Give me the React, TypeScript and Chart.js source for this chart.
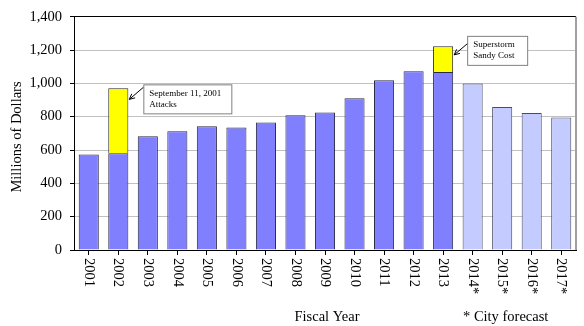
import React, { useEffect, useRef } from "react";
import { Chart, registerables } from "chart.js";

Chart.register(...registerables);

const categories = ["2001","2002","2003","2004","2005","2006","2007","2008","2009","2010","2011","2012","2013","2014*","2015*","2016*","2017*"];
const baseValues = [573, 580, 682, 712, 743, 735, 765, 808, 825, 910, 1018, 1072, 1068, 999, 858, 822, 795];
const extraValues = [0, 391, 0, 0, 0, 0, 0, 0, 0, 0, 0, 0, 155, 0, 0, 0, 0];
const forecastFlags = [false,false,false,false,false,false,false,false,false,false,false,false,false,true,true,true,true];
const yTickValues = [0, 200, 400, 600, 800, 1000, 1200, 1400];

const annotations = [
  { index: 1, value: 904, dx: 15, dy: -15, w: 88, h: 29, arrowY: 3, lines: ["September 11, 2001", "Attacks"] },
  { index: 12, value: 1171, dx: 14, dy: -19, w: 60, h: 29, arrowY: 8, lines: ["Superstorm", "Sandy Cost"] },
];

const SERIF = "'Liberation Serif', 'Times New Roman', serif";

const overlayPlugin = {
  id: "overlay",
  afterDraw(chart: any) {
    const ctx = chart.ctx;
    const xs = chart.scales.x;
    const ca = chart.chartArea;
    ctx.save();
    // right border of plot
    ctx.strokeStyle = "#a0a0a0";
    ctx.lineWidth = 2;
    ctx.beginPath();
    ctx.moveTo(ca.right, ca.top);
    ctx.lineTo(ca.right, ca.bottom);
    ctx.stroke();

    // x labels rotated clockwise
    ctx.fillStyle = "#000";
    ctx.font = `14.5px ${SERIF}`;
    ctx.textAlign = "left";
    ctx.textBaseline = "middle";
    categories.forEach((lab, i) => {
      const x = xs.getPixelForTick(i);
      ctx.save();
      ctx.translate(x, ca.bottom + 8);
      ctx.rotate(Math.PI / 2);
      ctx.fillText(lab, 0, 0);
      ctx.restore();
    });

    // axis titles
    ctx.font = `14.5px ${SERIF}`;
    ctx.textAlign = "center";
    ctx.textBaseline = "middle";
    ctx.save();
    ctx.translate(17, 137);
    ctx.rotate(-Math.PI / 2);
    ctx.fillText("Millions of Dollars", 0, 0);
    ctx.restore();
    ctx.fillText("Fiscal Year", (ca.left + ca.right) / 2 + 2, 317);
    ctx.textAlign = "left";
    ctx.fillText("* City forecast", 463, 317);

    // annotations
    const meta = chart.getDatasetMeta(1);
    annotations.forEach((a) => {
      const bar = meta.data[a.index];
      const tipX = bar.x + bar.width / 2;
      const tipY = chart.scales.y.getPixelForValue(a.value);
      const bx = tipX + a.dx;
      const by = tipY + a.dy;
      ctx.fillStyle = "#fff";
      ctx.fillRect(bx, by, a.w, a.h);
      ctx.strokeStyle = "#808080";
      ctx.lineWidth = 1;
      ctx.strokeRect(bx + 0.5, by + 0.5, a.w, a.h);
      ctx.fillStyle = "#000";
      ctx.font = `9px ${SERIF}`;
      ctx.textAlign = "left";
      ctx.textBaseline = "middle";
      a.lines.forEach((t, k) => ctx.fillText(t, bx + 6, by + 9 + k * 11));
      // arrow
      const sx = bx, sy = by + a.arrowY;
      ctx.strokeStyle = "#000";
      ctx.beginPath();
      ctx.moveTo(sx, sy);
      ctx.lineTo(tipX + 1, tipY);
      ctx.stroke();
      const ang = Math.atan2(tipY - sy, tipX + 1 - sx);
      const L = 6;
      ctx.beginPath();
      ctx.moveTo(tipX + 1, tipY);
      ctx.lineTo(tipX + 1 - L * Math.cos(ang - 0.45), tipY - L * Math.sin(ang - 0.45));
      ctx.moveTo(tipX + 1, tipY);
      ctx.lineTo(tipX + 1 - L * Math.cos(ang + 0.45), tipY - L * Math.sin(ang + 0.45));
      ctx.stroke();
    });
    ctx.restore();
  },
};

export default function App() {
  const ref = useRef<HTMLCanvasElement>(null);
  useEffect(() => {
    if (!ref.current) return;
    const chart = new Chart(ref.current, {
      type: "bar",
      data: {
        labels: categories,
        datasets: [
          {
            data: baseValues,
            backgroundColor: forecastFlags.map((f) => (f ? "#c4ccff" : "#8080ff")),
            borderColor: forecastFlags.map((f) => (f ? "#4a4a66" : "#2a2a4a")),
            borderWidth: 1,
            barPercentage: 0.68,
            categoryPercentage: 1,
          },
          {
            data: extraValues,
            backgroundColor: "#ffff00",
            borderColor: "#2a2a2a",
            borderWidth: 1,
            barPercentage: 0.68,
            categoryPercentage: 1,
          },
        ],
      },
      options: {
        animation: false,
        responsive: true,
        maintainAspectRatio: false,
        layout: { padding: { top: 13, right: 8, left: 0, bottom: 0 } },
        plugins: { legend: { display: false }, tooltip: { enabled: false } },
        scales: {
          x: {
            stacked: true,
            grid: { display: true, drawOnChartArea: false, offset: false, tickLength: 5, tickColor: "#000" },
            border: { color: "#000", width: 1 },
            ticks: { display: false },
            afterFit: (s: any) => { s.height = 76; },
          },
          y: {
            stacked: true,
            min: 0,
            max: 1400,
            afterBuildTicks: (s: any) => { s.ticks = yTickValues.map((v) => ({ value: v })); },
            grid: {
              color: (c: any) => (c.tick && c.tick.value === 1400 ? "#000" : "#c0c0c0"),
              tickColor: "#000",
              tickLength: 4,
            },
            border: { color: "#000", width: 1 },
            ticks: {
              color: "#000",
              padding: 8,
              font: { family: SERIF, size: 14.5 },
              callback: (v: any) => Number(v).toLocaleString("en-US"),
            },
            afterFit: (s: any) => { s.width = 74; },
          },
        },
      },
      plugins: [overlayPlugin],
    });
    return () => chart.destroy();
  }, []);
  return (
    <div style={{ position: "fixed", left: 0, top: 0, width: 584, height: 326, background: "#fff" }}>
      <canvas ref={ref} />
    </div>
  );
}
